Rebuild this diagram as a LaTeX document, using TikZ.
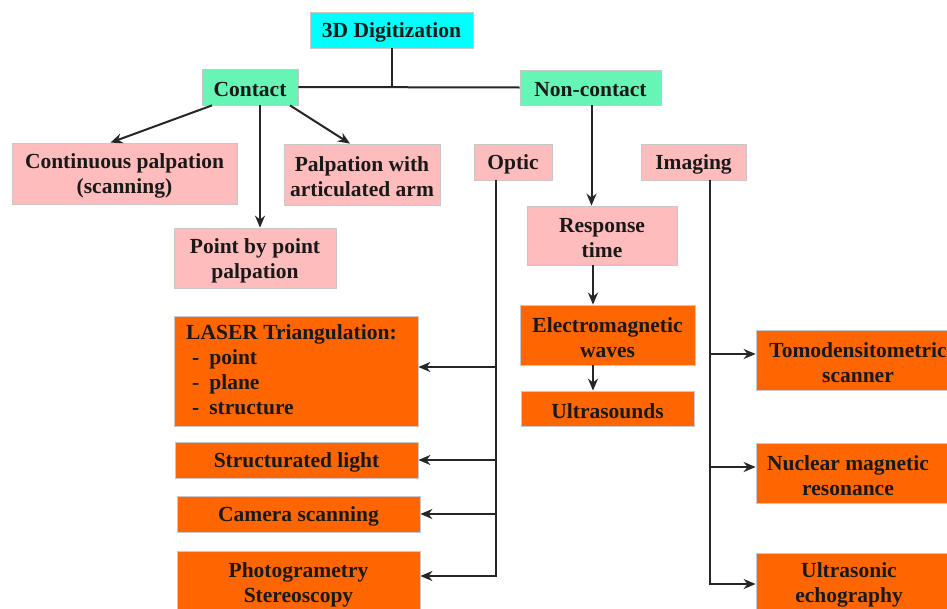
\documentclass[tikz,border=0pt]{standalone}
\usepackage{fontspec}
\setmainfont{Liberation Serif}
\usetikzlibrary{arrows.meta,calc}
\definecolor{cyanbox}{HTML}{00FFFF}
\definecolor{greenbox}{HTML}{66F5B5}
\definecolor{pinkbox}{HTML}{FFBCBC}
\definecolor{orangebox}{HTML}{FF6600}
\definecolor{boxline}{HTML}{C8C8C8}
\tikzset{
  txt/.style={inner sep=0pt, align=center,
    font=\bfseries\fontsize{21.5}{25}\selectfont, text=black!90},
  box/.style={draw=boxline, line width=0.8pt, inner sep=0pt},
  cyanb/.style={box, fill=cyanbox},
  greenb/.style={box, fill=greenbox},
  pinkb/.style={box, fill=pinkbox},
  orangeb/.style={box, fill=orangebox},
  conn/.style={line width=2pt, draw=black!85},
  arr/.style={conn, -{Stealth[length=12pt,width=10pt]}}
}
% #1 style, #2 width, #3 height, #4 name, #5 centre, #6 text
\newcommand\mybox[6]{%
  \node[#1, minimum width=#2, minimum height=#3] (#4) at (#5) {};
  \node[txt, yshift=-2.5pt] (#4t) at (#4) {#6};}
\begin{document}
\begin{tikzpicture}[x=1pt,y=-1pt]
\useasboundingbox (0,0) rectangle (947,608);
\clip (0,0) rectangle (947,608);
% top
\mybox{cyanb}{163}{36}{dig}{391.5,30}{3D Digitization}
\mybox{greenb}{96}{36}{contact}{250,87}{Contact}
\mybox{greenb}{141}{35}{noncontact}{590.5,87.5}{Non-contact}
% contact children
\mybox{pinkb}{225}{61}{cont}{124.5,173.5}{Continuous palpation\\(scanning)}
\mybox{pinkb}{156}{61}{arm}{362,174.5}{Palpation with\\articulated arm}
\mybox{pinkb}{162}{60}{ptp}{255,258}{Point by point\\palpation}
% non-contact children
\mybox{pinkb}{78}{36}{optic}{513,162}{Optic}
\mybox{pinkb}{105}{36}{imaging}{693.5,162}{Imaging}
\mybox{pinkb}{150}{59}{resp}{602,235.5}{Response\\time}
\mybox{orangeb}{175}{60}{em}{607.5,335}{Electromagnetic\\waves}
\mybox{orangeb}{173}{35}{ultra}{607.5,408.5}{Ultrasounds}
% optic children
\node[orangeb, minimum width=244, minimum height=110] (laser) at (296,371) {};
\node[txt, align=left, anchor=north west] (lasert) at (186,324) {LASER Triangulation:\\\hspace*{6pt}-\hspace*{10pt}point\\\hspace*{6pt}-\hspace*{10pt}plane\\\hspace*{6pt}-\hspace*{10pt}structure};
\mybox{orangeb}{243}{36}{struct}{296.5,460}{Structurated light}
\mybox{orangeb}{243}{36}{camera}{298.5,514}{Camera scanning}
\node[orangeb, minimum width=243, minimum height=68] (photo) at (298.5,585) {};
\node[txt, anchor=north] (photot) at (298.5,562) {Photogrametry\\Stereoscopy};
% imaging children
\node[orangeb, minimum width=200, minimum height=60] (tomo) at (856,360) {};
\node[txt, yshift=-2.5pt] (tomot) at (858,360) {Tomodensitometric\\scanner};
\node[orangeb, minimum width=200, minimum height=60] (nmr) at (856,473) {};
\node[txt, yshift=-2.5pt] (nmrt) at (848,473) {Nuclear magnetic\\resonance};
\node[orangeb, minimum width=200, minimum height=62] (echo) at (856,584) {};
\node[txt, anchor=north] (echot) at (849,562) {Ultrasonic\\echography};
% connectors top
\draw[conn] (contact.east) -- (noncontact.west);
\draw[conn] (dig.south) -- (dig.south |- contact.east);
% contact arrows
\draw[arr] ([xshift=-38pt]contact.south) -- ([xshift=-14pt]cont.north);
\draw[arr] ([xshift=10pt]contact.south) -- ([xshift=10pt]contact.south |- ptp.north);
\draw[arr] ([xshift=40pt]contact.south) -- ([xshift=-12pt]arm.north);
% non-contact chain
\draw[arr] ([xshift=1pt]noncontact.south) -- ([xshift=1pt]noncontact.south |- resp.north);
\draw[arr] ([xshift=-9pt]resp.south) -- ([xshift=-9pt]resp.south |- em.north);
\draw[arr] ([xshift=-14.5pt]em.south) -- ([xshift=-14.5pt]em.south |- ultra.north);
% optic tree
\coordinate (ot) at ([xshift=-17pt]optic.south);
\coordinate (laserin) at ([yshift=4pt]laser.east);
\coordinate (photoin) at ([yshift=9pt]photo.east);
\draw[arr] (ot) |- (photoin);
\draw[arr] (ot |- laserin) -- (laserin);
\draw[arr] (ot |- struct.east) -- (struct.east);
\draw[arr] (ot |- camera.east) -- (camera.east);
% imaging tree
\coordinate (it) at ([xshift=16.5pt]imaging.south);
\coordinate (tomoin) at ([yshift=6pt]tomo.west);
\coordinate (nmrin) at ([yshift=6pt]nmr.west);
\draw[arr] (it) |- (echo.west);
\draw[arr] (it |- tomoin) -- (tomoin);
\draw[arr] (it |- nmrin) -- (nmrin);
\end{tikzpicture}
\end{document}
